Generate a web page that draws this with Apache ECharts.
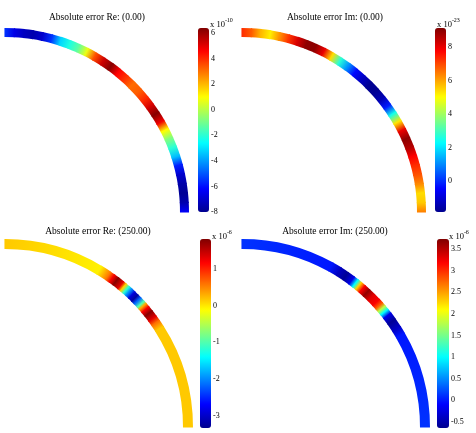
<!DOCTYPE html>
<html>
<head>
<meta charset="utf-8">
<script src="https://cdn.jsdelivr.net/npm/echarts@6/dist/echarts.min.js"></script>
<style>html,body{margin:0;padding:0;background:#fff}#main{width:476px;height:433px}</style>
</head>
<body>
<div id="main"></div>
<script>
// angle along the quarter ring (deg, 90 = top end, 0 = right end) and the error read there
var angRe0 = [90, 87, 84, 81, 78, 75, 72, 69, 66, 63, 60, 57, 54, 51, 48, 45, 42, 39, 36, 33, 30, 27, 24, 21, 18, 15, 12, 9, 6, 3, 0];
var errRe0 = [-5.5, -6.6, -7.2, -7.5, -7.0, -5.5, -3.2, -2.2, -1.3, 0.7, 3.5, 5.3, 6.3, 4.6, 3.9, 3.1, 3.3, 4.0, 5.2, 6.3, 4.8, 1.0, -0.8, -2.0, -3.5, -5.8, -7.0, -7.6, -7.9, -7.5, -6.3];

var angIm0 = [90, 87, 84, 81, 78, 75, 72, 69, 66, 63, 60, 57, 54, 51, 48, 45, 42, 39, 36, 33, 30, 27, 24, 21, 18, 15, 12, 9, 6, 3, 0];
var errIm0 = [7.3, 6.8, 5.8, 5.2, 6.2, 7.2, 8.2, 9.0, 9.0, 8.0, 5.4, 2.7, 1.1, -0.4, -1.2, -1.8, -1.8, -1.4, -0.2, 2.5, 5.3, 8.0, 9.0, 8.6, 7.8, 7.3, 6.9, 6.3, 5.4, 5.6, 6.4];

var angRe250 = [90, 59, 55.7, 54.2, 52.7, 50.8, 49.7, 48.5, 47.4, 46.1, 44.8, 43.6, 42.1, 41.2, 39.9, 38.3, 36.3, 34.6, 32.4, 0];
var errRe250 = [0.15, -0.05, 0.55, 1.2, 1.75, 1.3, 0.1, -1.2, -2.0, -2.9, -3.2, -2.2, -1.0, 0.3, 1.2, 1.75, 1.3, 0.6, 0.15, 0.15];

var angIm250 = [90, 61, 58, 55.5, 53.2, 51.7, 50.4, 48.9, 47.1, 45, 42.9, 41.5, 40.2, 38.9, 37.4, 35.1, 32.3, 30, 0];
var errIm250 = [0.12, 0.0, -0.4, -0.6, -0.2, 1.0, 2.3, 3.2, 3.65, 3.3, 3.2, 2.8, 1.8, 1.0, -0.2, -0.6, -0.35, 0.0, 0.12];

// colorbar limits and tick labels
var rangeRe0 = [-8, 6.4], ticksRe0 = [-8, -6, -4, -2, 0, 2, 4, 6];
var rangeIm0 = [-1.85, 9.15], ticksIm0 = [0, 2, 4, 6, 8];
var rangeRe250 = [-3.32, 1.8], ticksRe250 = [-3, -2, -1, 0, 1];
var rangeIm250 = [-0.64, 3.73], ticksIm250 = [-0.5, 0, 0.5, 1, 1.5, 2, 2.5, 3, 3.5];

var jet = ['#00008f', '#0000ff', '#0080ff', '#00ffff', '#80ff80', '#ffff00', '#ff8000', '#ff0000', '#800000'];
var serif = '"Liberation Serif", "DejaVu Serif", serif';

var panels = [
	{title: 'Absolute error Re: (0.00)', ang: angRe0, err: errRe0, range: rangeRe0, ticks: ticksRe0, exp: '-10',
		center: [5, 212], ring: [175, 184], bar: [198, 28, 11, 184], titlePos: [97, 17], expPos: [210, 23]},
	{title: 'Absolute error Im: (0.00)', ang: angIm0, err: errIm0, range: rangeIm0, ticks: ticksIm0, exp: '-23',
		center: [242, 212], ring: [175, 184], bar: [435, 28, 11, 184], titlePos: [335, 17], expPos: [437, 23]},
	{title: 'Absolute error Re: (250.00)', ang: angRe250, err: errRe250, range: rangeRe250, ticks: ticksRe250, exp: '-6',
		center: [5, 427], ring: [178, 188], bar: [200, 239, 11, 189], titlePos: [98, 231], expPos: [212, 235]},
	{title: 'Absolute error Im: (250.00)', ang: angIm250, err: errIm250, range: rangeIm250, ticks: ticksIm250, exp: '-6',
		center: [242, 427], ring: [178, 188], bar: [437, 239, 12, 189], titlePos: [335, 231], expPos: [449, 235]}
];

// one ring segment from sample k to sample k+1, colour blended between the two
function renderRing(params, api) {
	var k = params.dataIndexInside;
	if (k >= params.dataInsideLength - 1) return null;
	var a0 = api.value(0), a1 = api.value(0, k + 1);
	var cx = params.coordSys.cx, cy = params.coordSys.cy;
	var i0 = api.coord([0, a0]), o0 = api.coord([1, a0]);
	var i1 = api.coord([0, a1]), o1 = api.coord([1, a1]);
	var r0 = Math.hypot(i0[0] - cx, i0[1] - cy);
	var r = Math.hypot(o0[0] - cx, o0[1] - cy);
	var s0 = Math.atan2(o0[1] - cy, o0[0] - cx);
	var s1 = Math.atan2(o1[1] - cy, o1[0] - cx);
	var m0 = [(i0[0] + o0[0]) / 2, (i0[1] + o0[1]) / 2];
	var m1 = [(i1[0] + o1[0]) / 2, (i1[1] + o1[1]) / 2];
	var fill = new echarts.graphic.LinearGradient(m0[0], m0[1], m1[0], m1[1], [
		{offset: 0, color: api.visual('color')},
		{offset: 1, color: api.visual('color', k + 1)}
	], true);
	return {
		type: 'sector',
		shape: {cx: cx, cy: cy, r0: r0, r: r,
			startAngle: Math.min(s0, s1) - 0.003, endAngle: Math.max(s0, s1) + 0.003, clockwise: true},
		style: {fill: fill}
	};
}

var chart = echarts.init(document.getElementById('main'));
chart.setOption({
	animation: false,
	backgroundColor: '#fff',
	polar: panels.map(function (p) { return {center: p.center, radius: p.ring}; }),
	angleAxis: panels.map(function (p, i) {
		return {polarIndex: i, type: 'value', min: 0, max: 360, startAngle: 0, clockwise: false, show: false};
	}),
	radiusAxis: panels.map(function (p, i) {
		return {polarIndex: i, type: 'value', min: 0, max: 1, show: false};
	}),
	grid: panels.map(function (p) {
		return {left: p.bar[0], top: p.bar[1], width: p.bar[2], height: p.bar[3]};
	}),
	xAxis: panels.map(function (p, i) { return {gridIndex: i, type: 'value', show: false}; }),
	yAxis: panels.map(function (p, i) {
		return {
			gridIndex: i, type: 'value', min: p.range[0], max: p.range[1], position: 'right',
			axisLine: {show: false}, axisTick: {show: false}, splitLine: {show: false},
			axisLabel: {customValues: p.ticks, fontSize: 8, fontFamily: serif, color: '#000', margin: 2}
		};
	}),
	visualMap: panels.map(function (p, i) {
		return {
			type: 'continuous', seriesIndex: i, dimension: 1, min: p.range[0], max: p.range[1],
			orient: 'vertical', left: p.bar[0], top: p.bar[1], itemWidth: p.bar[2], itemHeight: p.bar[3],
			padding: 0, calculable: false, hoverLink: false, inRange: {color: jet}
		};
	}),
	graphic: [].concat.apply([], panels.map(function (p) {
		return [
			{type: 'text', x: p.titlePos[0], y: p.titlePos[1], silent: true,
				style: {text: p.title, fontSize: 9.5, fontFamily: serif, fill: '#000', align: 'center', verticalAlign: 'middle'}},
			{type: 'text', x: p.expPos[0], y: p.expPos[1], silent: true,
				style: {text: '{b|x 10}{s|' + p.exp + '}', align: 'left', verticalAlign: 'middle',
					rich: {
						b: {fontSize: 8.5, fontFamily: serif, color: '#000', lineHeight: 12, verticalAlign: 'bottom'},
						s: {fontSize: 6, fontFamily: serif, color: '#000', lineHeight: 12, verticalAlign: 'top'}
					}}}
		];
	})),
	series: panels.map(function (p, i) {
		return {
			type: 'custom', coordinateSystem: 'polar', polarIndex: i,
			encode: {angle: 0},
			data: p.ang.map(function (a, k) { return [a, p.err[k]]; }),
			renderItem: renderRing
		};
	})
});
</script>
</body>
</html>
